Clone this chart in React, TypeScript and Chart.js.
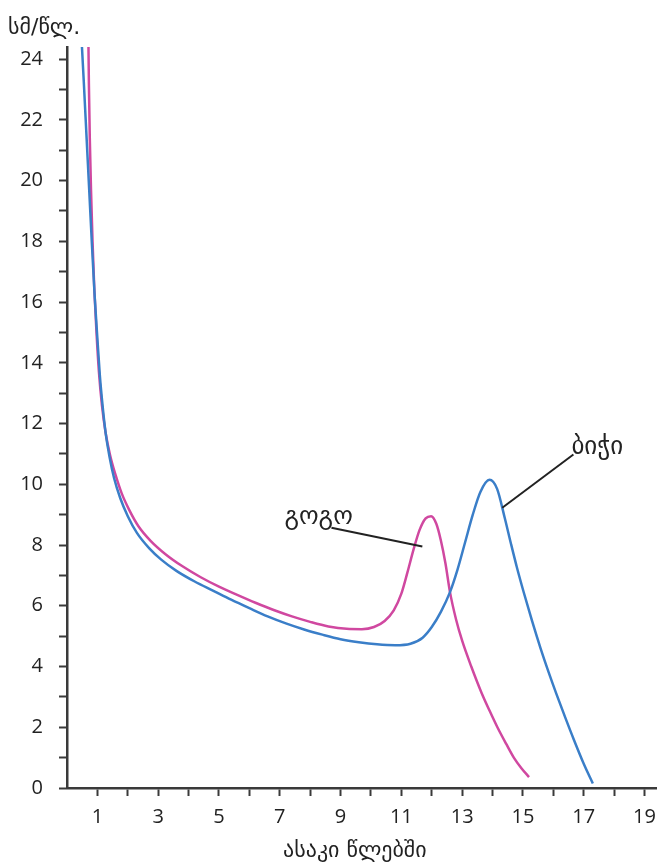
import React, { useEffect, useRef } from 'react';
import { Chart, registerables } from 'chart.js';

Chart.register(...registerables);

// ---- data (age in years, growth rate in cm/year) ----
const boysAge = [0.46, 0.55, 0.64, 0.73, 0.82, 0.91, 1.0, 1.08, 1.17, 1.27, 1.4, 1.55, 1.75, 2.0, 2.3, 2.7, 3.1, 3.6, 4.2, 4.8, 5.4, 6.0, 6.6, 7.2, 7.8, 8.4, 9.0, 9.6, 10.2, 10.8, 11.3, 11.7, 12.0, 12.3, 12.6, 12.85, 13.1, 13.35, 13.6, 13.9, 14.15, 14.4, 14.6, 14.8, 15.03, 15.3, 15.58, 15.85, 16.1, 16.4, 16.66, 17.0, 17.3];
const boysRate = [25.0, 23.3, 21.5, 19.7, 17.9, 16.2, 14.8, 13.6, 12.6, 11.7, 10.9, 10.2, 9.55, 8.95, 8.4, 7.9, 7.52, 7.15, 6.8, 6.5, 6.2, 5.92, 5.65, 5.42, 5.22, 5.05, 4.9, 4.8, 4.73, 4.7, 4.75, 4.95, 5.3, 5.8, 6.45, 7.2, 8.1, 9.0, 9.75, 10.15, 9.85, 8.9, 8.07, 7.27, 6.43, 5.5, 4.6, 3.8, 3.1, 2.3, 1.63, 0.8, 0.15];

const girlsAge = [0.7, 0.72, 0.75, 0.79, 0.84, 0.9, 0.97, 1.05, 1.15, 1.27, 1.42, 1.6, 1.8, 2.05, 2.35, 2.75, 3.24, 3.8, 4.4, 5.0, 5.6, 6.2, 6.8, 7.4, 8.0, 8.6, 9.2, 9.7, 10.1, 10.45, 10.75, 11.0, 11.2, 11.4, 11.6, 11.8, 11.98, 12.15, 12.3, 12.45, 12.6, 12.8, 13.0, 13.3, 13.64, 13.9, 14.16, 14.45, 14.7, 14.95, 15.2];
const girlsRate = [25.0, 23.2, 21.4, 19.7, 18.0, 16.4, 15.0, 13.7, 12.6, 11.7, 10.95, 10.3, 9.7, 9.15, 8.62, 8.14, 7.7, 7.3, 6.94, 6.63, 6.36, 6.1, 5.86, 5.65, 5.47, 5.32, 5.24, 5.23, 5.3, 5.5, 5.85, 6.4, 7.1, 7.85, 8.5, 8.88, 8.95, 8.7, 8.15, 7.4, 6.45, 5.55, 4.85, 4.0, 3.13, 2.55, 2.0, 1.45, 1.0, 0.65, 0.36];

const xTickLabels = [1, 3, 5, 7, 9, 11, 13, 15, 17, 19];
const yTickLabels = [0, 2, 4, 6, 8, 10, 12, 14, 16, 18, 20, 22, 24];

const yAxisTitle = 'სმ/წლ.';
const xAxisTitle = 'ასაკი წლებში';
const boysLabel = 'ბიჭი';
const girlsLabel = 'გოგო';

// leader lines in data units: [fromAge, fromRate, toAge, toRate]
const girlsLeader = [8.7, 8.57, 11.69, 7.95];
const boysLeader = [16.66, 10.98, 14.32, 9.23];

const BLUE = 'rgb(58,126,200)';
const PINK = 'rgb(208,72,160)';
const AXIS = '#3a3a3a';
const TEXT = '#222222';

const textPlugin = {
  id: 'texts',
  afterDraw(chart: any) {
    const ctx = chart.ctx;
    const xs = chart.scales.x;
    const ys = chart.scales.y;
    const area = chart.chartArea;
    ctx.save();
    ctx.strokeStyle = '#222';
    ctx.lineWidth = 2;
    for (const l of [girlsLeader, boysLeader]) {
      ctx.beginPath();
      ctx.moveTo(xs.getPixelForValue(l[0]), ys.getPixelForValue(l[1]));
      ctx.lineTo(xs.getPixelForValue(l[2]), ys.getPixelForValue(l[3]));
      ctx.stroke();
    }
    ctx.fillStyle = TEXT;
    ctx.font = '25px "DejaVu Sans"';
    ctx.textBaseline = 'middle';
    ctx.textAlign = 'left';
    ctx.fillText(girlsLabel, xs.getPixelForValue(girlsLeader[0]) - 47, ys.getPixelForValue(girlsLeader[1]) - 10);
    ctx.fillText(boysLabel, xs.getPixelForValue(boysLeader[0]) - 2, ys.getPixelForValue(boysLeader[1]) - 7);
    ctx.font = '22px "DejaVu Sans"';
    ctx.fillText(yAxisTitle, 8, area.top - 19);
    ctx.textAlign = 'center';
    ctx.fillText(xAxisTitle, (area.left + area.right) / 2 - 7, area.bottom + 63);
    ctx.restore();
  },
};

export default function App() {
  const ref = useRef<HTMLCanvasElement | null>(null);
  useEffect(() => {
    document.body.style.margin = '0';
    const canvas = ref.current!;
    const tickFont = { family: '"Open Sans"', size: 20 };
    const common = {
      borderWidth: 2.5,
      pointRadius: 0,
      cubicInterpolationMode: 'monotone',
      fill: false,
    };
    const chart = new Chart(canvas, {
      type: 'line',
      data: {
        datasets: [
          {
            ...common,
            label: boysLabel,
            data: boysAge.map((a, i) => ({ x: a, y: boysRate[i] })),
            borderColor: BLUE,
          },
          {
            ...common,
            label: girlsLabel,
            data: girlsAge.map((a, i) => ({ x: a, y: girlsRate[i] })),
            borderColor: PINK,
          },
        ],
      },
      options: {
        animation: false,
        responsive: false,
        maintainAspectRatio: false,
        layout: { padding: { top: 47, right: 2, left: 0, bottom: 0 } },
        plugins: { legend: { display: false }, tooltip: { enabled: false } },
        scales: {
          x: {
            type: 'linear',
            min: 0,
            max: 19.4,
            afterFit: (s: any) => { s.height = 80; },
            border: { display: true, color: AXIS, width: 2.5 },
            grid: {
              drawOnChartArea: false,
              drawTicks: true,
              tickLength: 8,
              tickWidth: 2,
              tickColor: (c: any) => (c.tick && c.tick.value === 0 ? 'rgba(0,0,0,0)' : AXIS),
            },
            ticks: {
              stepSize: 1,
              includeBounds: false,
              autoSkip: false,
              maxRotation: 0,
              padding: 9,
              color: TEXT,
              font: tickFont,
              callback: (v: any) => (xTickLabels.includes(Number(v)) ? String(v) : ''),
            },
          },
          y: {
            type: 'linear',
            min: 0,
            max: 24.4,
            afterFit: (s: any) => { s.width = 67; },
            border: { display: true, color: AXIS, width: 2.5 },
            grid: {
              drawOnChartArea: false,
              drawTicks: true,
              tickLength: 8,
              tickWidth: 2,
              tickColor: AXIS,
            },
            ticks: {
              stepSize: 1,
              includeBounds: false,
              autoSkip: false,
              padding: 16,
              color: TEXT,
              font: tickFont,
              callback: (v: any) => (yTickLabels.includes(Number(v)) ? String(v) : ''),
            },
          },
        },
      },
      plugins: [textPlugin],
    } as any);
    return () => chart.destroy();
  }, []);
  return (
    <div style={{ position: 'fixed', left: 0, top: 0, width: 665, height: 868, background: '#fff' }}>
      <canvas ref={ref} width={665} height={868} style={{ display: 'block' }} />
    </div>
  );
}
